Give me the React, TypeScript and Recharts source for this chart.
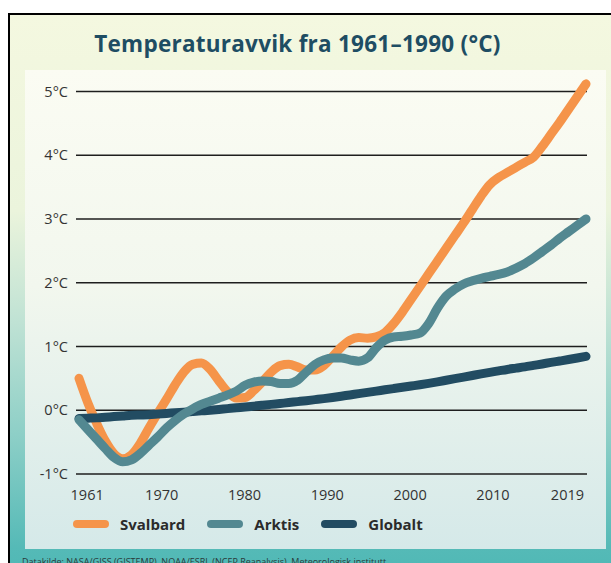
import { LineChart, Line, XAxis, YAxis, ReferenceLine, Legend } from "recharts";

const YEARS = [
  1961, 1962, 1963, 1964, 1965, 1966, 1967, 1968, 1969, 1970,
  1971, 1972, 1973, 1974, 1975, 1976, 1977, 1978, 1979, 1980,
  1981, 1982, 1983, 1984, 1985, 1986, 1987, 1988, 1989, 1990,
  1991, 1992, 1993, 1994, 1995, 1996, 1997, 1998, 1999, 2000,
  2001, 2002, 2003, 2004, 2005, 2006, 2007, 2008, 2009, 2010,
  2011, 2012, 2013, 2014, 2015, 2016, 2017, 2018, 2019,
];

const SVALBARD = [
  0.5, 0.12, -0.2, -0.48, -0.68, -0.76, -0.7, -0.52, -0.28, -0.05,
  0.17, 0.4, 0.6, 0.72, 0.74, 0.64, 0.46, 0.29, 0.19, 0.2,
  0.31, 0.45, 0.6, 0.7, 0.72, 0.68, 0.63, 0.63, 0.7, 0.84,
  0.99, 1.1, 1.14, 1.13, 1.15, 1.22, 1.36, 1.54, 1.74, 1.94,
  2.14, 2.34, 2.54, 2.74, 2.94, 3.15, 3.36, 3.54, 3.65, 3.73,
  3.81, 3.89, 3.97, 4.14, 4.33, 4.52, 4.72, 4.92, 5.12,
];

const ARKTIS = [
  -0.15, -0.3, -0.45, -0.6, -0.74, -0.81, -0.78, -0.68, -0.55, -0.42,
  -0.28, -0.16, -0.06, 0.02, 0.09, 0.14, 0.19, 0.24, 0.3, 0.39,
  0.44, 0.46, 0.45, 0.42, 0.42, 0.47, 0.6, 0.72, 0.79, 0.82,
  0.82, 0.79, 0.77, 0.82, 0.98, 1.1, 1.15, 1.16, 1.18, 1.21,
  1.36, 1.6, 1.79, 1.9, 1.98, 2.03, 2.07, 2.1, 2.13, 2.17,
  2.23, 2.3, 2.39, 2.49, 2.59, 2.7, 2.8, 2.9, 3.0,
];

const GLOBALT = [
  -0.13, -0.125, -0.12, -0.11, -0.1, -0.09, -0.08, -0.075, -0.07, -0.06,
  -0.05, -0.04, -0.03, -0.02, -0.01, 0.0, 0.012, 0.025, 0.038, 0.05,
  0.064, 0.078, 0.092, 0.106, 0.12, 0.135, 0.15, 0.166, 0.182, 0.2,
  0.22, 0.24, 0.26, 0.28, 0.3, 0.32, 0.34, 0.36, 0.38, 0.4,
  0.422, 0.445, 0.47, 0.495, 0.52, 0.545, 0.57, 0.594, 0.617, 0.64,
  0.66, 0.68, 0.703, 0.726, 0.75, 0.772, 0.795, 0.82, 0.845,
];

const YEAR_TICKS = [1961, 1970, 1980, 1990, 2000, 2010, 2019];
const TEMP_TICKS = [-1, 0, 1, 2, 3, 4, 5];
const LEGEND_ORDER = ["Svalbard", "Arktis", "Globalt"];

const COLORS = {
  Svalbard: "#f5944a",
  Arktis: "#538891",
  Globalt: "#224c62",
};

const data = YEARS.map((year, i) => ({
  year,
  Svalbard: SVALBARD[i],
  Arktis: ARKTIS[i],
  Globalt: GLOBALT[i],
}));

const FONT = '"Open Sans", sans-serif';
const tickStyle = { fill: "#333", fontSize: 14.5, fontFamily: FONT };

const LegendContent = ({ payload }: { payload?: { value: string; color: string }[] }) => {
  const items = [...(payload ?? [])].sort(
    (a, b) => LEGEND_ORDER.indexOf(a.value) - LEGEND_ORDER.indexOf(b.value)
  );
  return (
    <div style={{ display: "flex", alignItems: "center", height: 20 }}>
      {items.map((item) => (
        <div key={item.value} style={{ display: "flex", alignItems: "center", marginRight: 22 }}>
          <span
            style={{
              display: "inline-block",
              width: 36,
              height: 8,
              borderRadius: 4,
              background: item.color,
              marginRight: 11,
            }}
          />
          <span style={{ font: `700 15px ${FONT}`, color: "#2b2b2b", lineHeight: "20px" }}>
            {item.value}
          </span>
        </div>
      ))}
    </div>
  );
};

export default function App() {
  const lineProps = {
    xAxisId: "data",
    type: "monotone" as const,
    strokeWidth: 9,
    strokeLinecap: "round" as const,
    strokeLinejoin: "round" as const,
    dot: false,
    activeDot: false,
    isAnimationActive: false,
  };

  return (
    <div
      style={{
        position: "absolute",
        left: 0,
        top: 0,
        width: 611,
        height: 563,
        overflow: "hidden",
        fontFamily: FONT,
      }}
    >
      {/* outer frame */}
      <div
        style={{
          position: "absolute",
          left: 8,
          top: 13,
          width: 640,
          height: 600,
          borderLeft: "2px solid #000",
          borderTop: "2px solid #000",
          background:
            "linear-gradient(to bottom, #f4f8e0 0px, #ebf4dc 196px, #bfe2d4 308px, #8dcfc7 420px, #55bab7 532px, #4fb8b5 560px)",
        }}
      />
      {/* inner panel */}
      <div
        style={{
          position: "absolute",
          left: 25,
          top: 70,
          width: 581,
          height: 479,
          background: "linear-gradient(to bottom, #fbfcf3 0%, #f2f7ee 45%, #d5e9e9 100%)",
        }}
      />
      <div
        style={{
          position: "absolute",
          left: 0,
          top: 28.5,
          width: 595,
          textAlign: "center",
          font: `700 22.5px/30px ${FONT}`,
          letterSpacing: 0.25,
          color: "#1e4d63",
        }}
      >
        Temperaturavvik fra 1961–1990 (°C)
      </div>
      <div
        style={{
          position: "absolute",
          left: 22,
          top: 553.5,
          font: `400 9px/15px ${FONT}`,
          color: "#2a3a3a",
          whiteSpace: "nowrap",
        }}
      >
        Datakilde: NASA/GISS (GISTEMP), NOAA/ESRL (NCEP Reanalysis), Meteorologisk institutt
      </div>

      <div style={{ position: "absolute", left: 0, top: 0 }}>
        <LineChart
          width={611}
          height={563}
          data={data}
          margin={{ top: 72.4, right: 24, bottom: 43.1, left: 0 }}
        >
          <XAxis
            xAxisId="labels"
            dataKey="year"
            type="number"
            domain={[1959.65, 2021.36]}
            ticks={YEAR_TICKS}
            interval={0}
            height={30}
            axisLine={false}
            tickLine={false}
            tickSize={0}
            tickMargin={0}
            tick={tickStyle}
          />
          <XAxis
            xAxisId="data"
            dataKey="year"
            type="number"
            domain={[1961, 2019]}
            padding={{ left: 3, right: 1 }}
            height={0}
            hide
          />
          <YAxis
            type="number"
            domain={[-1.25, 5.3]}
            ticks={TEMP_TICKS}
            interval={0}
            width={76}
            axisLine={false}
            tickLine={false}
            tickSize={0}
            tickMargin={8}
            tick={tickStyle}
            tickFormatter={(v: number) => `${v}°C`}
          />
          {TEMP_TICKS.map((t) => (
            <ReferenceLine key={t} xAxisId="data" y={t} stroke="#1e1e1e" strokeWidth={1.4} />
          ))}
          <Legend
            layout="horizontal"
            verticalAlign="middle"
            align="center"
            content={(p: any) => <LegendContent payload={p.payload} />}
            wrapperStyle={{ left: 73, top: 514, width: 420, height: 20 }}
          />
          <Line {...lineProps} dataKey="Svalbard" name="Svalbard" stroke={COLORS.Svalbard} />
          <Line {...lineProps} dataKey="Globalt" name="Globalt" stroke={COLORS.Globalt} />
          <Line {...lineProps} dataKey="Arktis" name="Arktis" stroke={COLORS.Arktis} />
        </LineChart>
      </div>
    </div>
  );
}
